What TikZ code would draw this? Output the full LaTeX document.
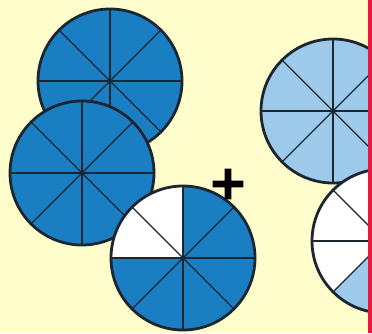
\documentclass[tikz,border=0pt]{standalone}
\usepackage{fontspec}
\newfontfamily\plusfont[FakeBold=3]{DejaVu Sans Bold}
\usetikzlibrary{calc}
\definecolor{cpaper}{HTML}{FFFDCC}
\definecolor{cdark}{HTML}{1A7EC3}
\definecolor{clight}{HTML}{9DC9EA}
\definecolor{cbar}{HTML}{F0143F}
\definecolor{cline}{HTML}{1C2630}
\tikzset{
  rim/.style={draw=cline, line width=2.8pt},
  spoke/.style={draw=cline, line width=1.4pt},
  sign/.style={font=\plusfont\fontsize{47}{47}\selectfont, inner sep=0pt, text=black},
}
% \pie{centre}{colour}{white sectors, counted from 0 deg in steps of 45}
\newcommand{\pie}[3]{%
  \fill[#2] #1 circle[radius=72];
  \foreach \s in {#3} {
    \fill[white] #1 -- ++(\s*45:72) arc[start angle=\s*45, end angle=\s*45+45, radius=72] -- cycle;
  }
  \foreach \a in {0,45,90,135} \draw[spoke] #1 ++(\a:72) -- ++(\a+180:144);
  \draw[rim] #1 circle[radius=72];
}
\begin{document}
\begin{tikzpicture}[x=1pt,y=1pt]
\useasboundingbox (0,0) rectangle (372,333);
\fill[cpaper] (0,0) rectangle (372,333);
% left group: three dark pies
\pie{(110,252)}{cdark}{}
\pie{(82,160)}{cdark}{}
\pie{(183,75)}{cdark}{2,3}
% right group: light pies
\pie{(333,222)}{clight}{}
\pie{(384,92)}{clight}{2,3,4}
\node[sign] (plus) at (228,149) {+};
\fill[cbar] (368,0) rectangle (372,333);
\end{tikzpicture}
\end{document}
